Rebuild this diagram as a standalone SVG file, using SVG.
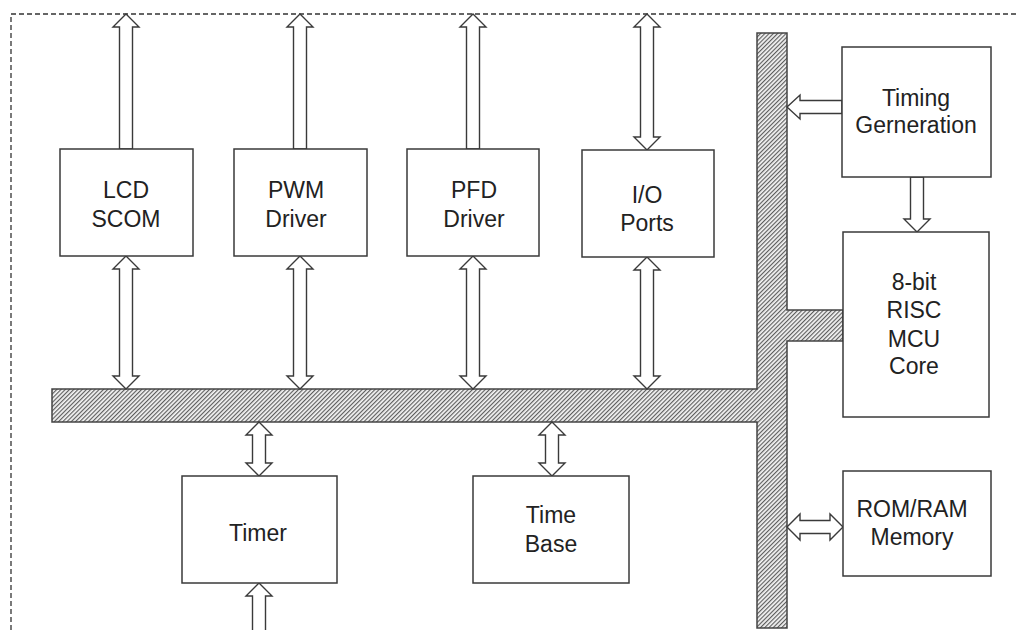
<svg xmlns="http://www.w3.org/2000/svg" width="1017" height="630" viewBox="0 0 1017 630">
<style>
.box{fill:#fff;stroke:#3a3a3a;stroke-width:1.5}
.arr{fill:#fff;stroke:#3a3a3a;stroke-width:1.4;stroke-linejoin:miter}
.lbl{font-family:"Liberation Sans",Arial,sans-serif;font-size:23px;fill:#222;text-anchor:middle}
.border{fill:none;stroke:#333;stroke-width:1.3;stroke-dasharray:5 3}
.bus{fill:url(#hatch);stroke:#444;stroke-width:1.5}
</style>
<defs>
<pattern id="hatch" width="3" height="3" patternUnits="userSpaceOnUse" patternTransform="rotate(45)">
<rect width="3" height="3" fill="#f4f4f4"/>
<line x1="0.6" y1="0" x2="0.6" y2="3" stroke="#555" stroke-width="1.1"/>
</pattern>
</defs>
<rect width="1017" height="630" fill="#fff"/>
<polyline class="border" points="11,630 11,14 1017,14"/>

<g id="bus">
<polygon class="bus" points="52,389 757,389 757,33 787,33 787,310 843,310 843,341 787,341 787,628 757,628 757,422 52,422"/>
</g>

<g id="connectors">
<polygon class="arr" points="126,14 139,27 132.5,27 132.5,149 119.5,149 119.5,27 113,27"/>
<polygon class="arr" points="300,14 313,27 306.5,27 306.5,149 293.5,149 293.5,27 287,27"/>
<polygon class="arr" points="473,14 486,27 479.5,27 479.5,149 466.5,149 466.5,27 460,27"/>
<polygon class="arr" points="647,14 660,27 653.5,27 653.5,137 660,137 647,150 634,137 640.5,137 640.5,27 634,27"/>

<polygon class="arr" points="126,256 139,269 132.5,269 132.5,376 139,376 126,389 113,376 119.5,376 119.5,269 113,269"/>
<polygon class="arr" points="300,256 313,269 306.5,269 306.5,376 313,376 300,389 287,376 293.5,376 293.5,269 287,269"/>
<polygon class="arr" points="473,256 486,269 479.5,269 479.5,376 486,376 473,389 460,376 466.5,376 466.5,269 460,269"/>
<polygon class="arr" points="647,257 660,270 653.5,270 653.5,376 660,376 647,389 634,376 640.5,376 640.5,270 634,270"/>

<polygon class="arr" points="259,422 272,435 265.5,435 265.5,463 272,463 259,476 246,463 252.5,463 252.5,435 246,435"/>
<polygon class="arr" points="552,422 565,435 558.5,435 558.5,463 565,463 552,476 539,463 545.5,463 545.5,435 539,435"/>
<polyline class="arr" points="252.5,632 252.5,596 246,596 259,583 272,596 265.5,596 265.5,632"/>

<polygon class="arr" points="787,107 800,95 800,100.5 842,100.5 842,113.5 800,113.5 800,119"/>
<polygon class="arr" points="910.5,177 923.5,177 923.5,219 930,219 917,232 904,219 910.5,219"/>
<polygon class="arr" points="787,527 800,514 800,520.5 830,520.5 830,514 843,527 830,540 830,533.5 800,533.5 800,540"/>
</g>

<g id="lcd">
<rect class="box" x="60" y="149" width="133" height="107"/>
<text class="lbl" x="126" y="198">LCD</text>
<text class="lbl" x="126" y="227">SCOM</text>
</g>
<g id="pwm">
<rect class="box" x="234" y="149" width="133" height="107"/>
<text class="lbl" x="296" y="198">PWM</text>
<text class="lbl" x="296" y="227">Driver</text>
</g>
<g id="pfd">
<rect class="box" x="407" y="149" width="132" height="107"/>
<text class="lbl" x="474" y="198">PFD</text>
<text class="lbl" x="474" y="227">Driver</text>
</g>
<g id="io">
<rect class="box" x="582" y="150" width="132" height="107"/>
<text class="lbl" x="647" y="203">I/O</text>
<text class="lbl" x="647" y="231">Ports</text>
</g>
<g id="timing">
<rect class="box" x="842" y="47" width="149" height="130"/>
<text class="lbl" x="916" y="106">Timing</text>
<text class="lbl" x="916" y="133">Gerneration</text>
</g>
<g id="mcu">
<rect class="box" x="843" y="232" width="146" height="185"/>
<text class="lbl" x="914" y="290">8-bit</text>
<text class="lbl" x="914" y="318">RISC</text>
<text class="lbl" x="914" y="347">MCU</text>
<text class="lbl" x="914" y="374">Core</text>
</g>
<g id="memory">
<rect class="box" x="843" y="471" width="148" height="105"/>
<text class="lbl" x="912" y="517">ROM/RAM</text>
<text class="lbl" x="912" y="545">Memory</text>
</g>
<g id="timer">
<rect class="box" x="182" y="476" width="155" height="107"/>
<text class="lbl" x="258" y="541">Timer</text>
</g>
<g id="timebase">
<rect class="box" x="473" y="476" width="156" height="107"/>
<text class="lbl" x="551" y="523">Time</text>
<text class="lbl" x="551" y="552">Base</text>
</g>
</svg>
